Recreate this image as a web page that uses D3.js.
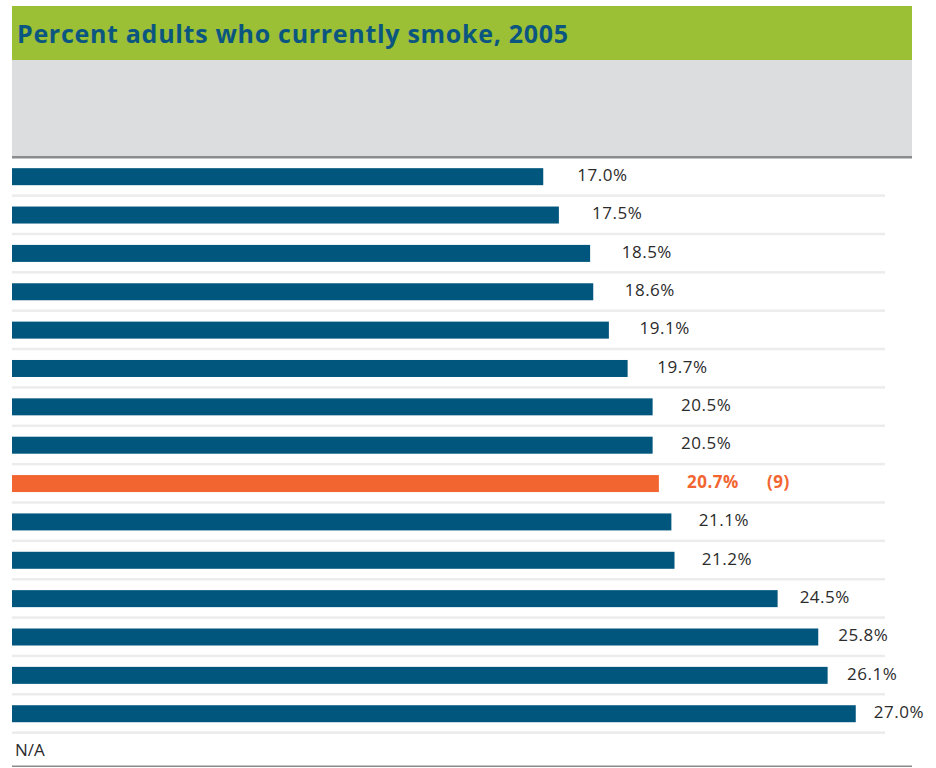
<!DOCTYPE html>
<html>
<head>
<meta charset="utf-8">
<script src="https://cdn.jsdelivr.net/npm/d3@7"></script>
<style>
  html, body { margin: 0; padding: 0; background: #ffffff; }
  svg { display: block; }
</style>
</head>
<body>
<svg id="chart" width="936" height="768"></svg>
<script>
// Adult smoking rate by state, 2005 (sorted ascending); last row has no data
const rowIds = d3.range(16);
const values = [17.0, 17.5, 18.5, 18.6, 19.1, 19.7, 20.5, 20.5, 20.7, 21.1, 21.2, 24.5, 25.8, 26.1, 27.0, null];
const highlightIndex = 8;
const highlightRank = "(9)";
const title = "Percent adults who currently smoke, 2005";
const missingLabel = "N/A";

const svg = d3.select("#chart");
const W = 936, H = 768;
const left = 12, right = 912;

const colors = {
  header: "#9bbf35",
  titleText: "#0b5680",
  band: "#dcdddf",
  rule: "#8a8b8d",
  bar: "#00567d",
  highlight: "#f26531",
  separator: "#ececec",
  text: "#2b2b2b"
};

// Title strip and blank grey band
svg.append("rect").attr("x", left).attr("y", 6).attr("width", right - left).attr("height", 54).attr("fill", colors.header);
svg.append("text").attr("x", 17).attr("y", 43)
  .attr("font-family", "'Open Sans', sans-serif").attr("font-weight", 700).attr("font-size", 25)
  .attr("letter-spacing", 0.7)
  .attr("fill", colors.titleText).text(title);
svg.append("rect").attr("x", left).attr("y", 60).attr("width", right - left).attr("height", 96).attr("fill", colors.band);
svg.append("rect").attr("x", left).attr("y", 156).attr("width", right - left).attr("height", 2.5).attr("fill", colors.rule);

// Scales
const x = d3.scaleLinear().domain([0, 28.8]).range([left, right]);
const y = d3.scaleBand().domain(rowIds).range([157.5, 157.5 + 16 * 38.36]).paddingInner(0).paddingOuter(0);
const barH = 17;

// Row separators
svg.append("g").selectAll("rect").data(rowIds.slice(0, -1)).join("rect")
  .attr("x", left).attr("width", 885 - left)
  .attr("y", d => y(d) + y.bandwidth() - 1.5).attr("height", 2.5)
  .attr("fill", colors.separator);

// Bars
const rows = rowIds.map(i => ({ i, v: values[i] }));
svg.append("g").selectAll("rect").data(rows.filter(d => d.v != null)).join("rect")
  .attr("x", x(0))
  .attr("y", d => y(d.i) + y.bandwidth() / 2 - barH / 2)
  .attr("width", d => x(d.v) - x(0))
  .attr("height", barH)
  .attr("fill", d => d.i === highlightIndex ? colors.highlight : colors.bar);

// Value labels: the gap after the bar tightens for long bars so labels stay on the page
const gap = d3.scaleLinear().domain([17, 27]).range([34, 18]);
const fmt = d3.format(".1f");
const labels = svg.append("g")
  .attr("font-family", "'Open Sans', sans-serif").attr("font-size", 17)
  .attr("letter-spacing", 0.5);
labels.selectAll("text").data(rows.filter(d => d.v != null)).join("text")
  .attr("x", d => x(d.v) + gap(d.v))
  .attr("y", d => y(d.i) + y.bandwidth() / 2)
  .attr("dy", "0.25em")
  .attr("font-weight", d => d.i === highlightIndex ? 700 : 400)
  .attr("fill", d => d.i === highlightIndex ? colors.highlight : colors.text)
  .text(d => fmt(d.v) + "%");

// Rank of highlighted state
const hv = values[highlightIndex];
labels.append("text")
  .attr("x", x(hv) + gap(hv) + 80)
  .attr("y", y(highlightIndex) + y.bandwidth() / 2)
  .attr("dy", "0.25em")
  .attr("font-weight", 700).attr("fill", colors.highlight)
  .text(highlightRank);

// Missing-data row
rows.filter(d => d.v == null).forEach(d => {
  labels.append("text")
    .attr("x", 15).attr("y", y(d.i) + 17).attr("dy", "0.36em")
    .attr("letter-spacing", 0)
    .attr("fill", colors.text).text(missingLabel);
});

// Bottom rule
svg.append("rect").attr("x", left).attr("y", H - 2.5).attr("width", right - left).attr("height", 1.5).attr("fill", colors.rule);
</script>
</body>
</html>
